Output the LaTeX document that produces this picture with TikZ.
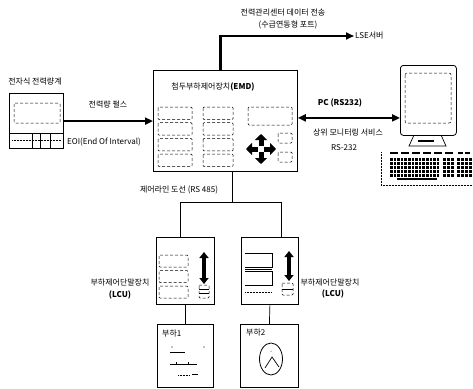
\documentclass[tikz,border=0pt]{standalone}
\usepackage{fontspec}
\setmainfont{Noto Sans CJK KR}[AutoFakeSlant=0.2]
\usetikzlibrary{arrows.meta}

\begin{document}
\begin{tikzpicture}[
  x=1pt,
  y=-1pt,
  box/.style={draw=black,line width=0.8pt,fill=white,inner sep=0pt},
  slot/.style={draw=black,densely dashed,line width=0.5pt,rounded corners=1pt},
  link/.style={line width=2.2pt,-{Triangle[length=8pt,width=7pt]}},
  twoway/.style={line width=2.2pt,{Triangle[length=8pt,width=7pt]}-{Triangle[length=8pt,width=7pt]}},
  wire/.style={line width=0.7pt},
  fat/.style={line width=3.4pt,-{Triangle[length=6pt,width=9pt]}},
  lab/.style={font=\fontsize{8}{9}\selectfont,inner sep=1pt}
]
\useasboundingbox (0,0) rectangle (473,388);

% meter
\node[lab] (meterlab) at (35,82) {전자식 전력량계};
\node[box,line width=1.2pt,minimum width=54,minimum height=55,anchor=north west] (meter) at (9,93) {};
\draw[slot] (14,103) rectangle (60,123);
\draw[wire] (9,133) -- (63,133);
\draw[densely dotted,line width=0.5pt] (12,140) -- (61,140);
\foreach \x in {32,40,50} \draw[line width=0.5pt] (\x,133) -- (\x,148);

% EMD
\node[box,minimum width=144,minimum height=101,anchor=north west] (emd) at (153,70) {};
\node[lab] (emdlab) at (213,87) {첨두부하제어장치\textbf{(EMD)}};
\foreach \r in {0,...,3} {
  \draw[slot] (158,107+15.7*\r) rectangle ++(34,12.5);
  \draw[slot] (203,107+15.7*\r) rectangle ++(30,12.5);
}
\draw[slot] (248,107) rectangle (292,125);
\foreach \a in {0,90,180,270} \draw[line width=5pt,-{Triangle[length=6pt,width=12pt]}] (261,149) ++(\a:3) -- ++(\a:12);
\draw[slot] (278,133) rectangle (292,143);
\draw[slot] (278,152) rectangle (292,162);

\draw[link] (meter.east) -- (meter.east -| emd.west);
\node[lab] (pulse) at (108,105) {전력량 펄스};
\node[lab,anchor=west] (eoi) at (66,142) {EOI(End Of Interval)};

% LSE
\node[lab,anchor=west] (lse) at (354,36) {LSE서버};
\draw[link] ([xshift=-5]emd.north) |- (lse.west);
\node[lab] (sendlab) at (283,13) {전력관리센터 데이터 전송};
\node[lab] (portlab) at (288,25) {(수급연동형 포트)};

% PC
\node[box,rounded corners=3pt,minimum width=56,minimum height=70,anchor=north west] (pc) at (400,65) {};
\draw[slot,rounded corners=2pt] (405,73) rectangle (451,123);
\draw[wire] (414,135) -- (409,146) -- (446,146) -- (441,135);
\fill (418,139.5) rectangle (434,142);
\draw[densely dotted,line width=0.5pt] (381,152) -- (381,185) -- (473,185);
\foreach \i in {0,...,5} \fill (390+11*\i,152) rectangle ++(8,2);
\foreach \i in {0,...,1} \fill (458+7*\i,152) rectangle ++(5,2);
\foreach \j in {0,...,4} {
  \foreach \i in {0,...,13} \fill (390+3.6*\i,158+4*\j) rectangle ++(2.6,2.6);
  \foreach \i in {0,...,2} \fill (443+4*\i,158+4*\j) rectangle ++(2.8,2.6);
  \foreach \i in {0,...,3} \fill (457+4*\i,158+4*\j) rectangle ++(2.8,2.6);
}
\fill (397,177.5) rectangle (437,180);

\draw[twoway] ([yshift=3]emd.east) -- ([yshift=3]emd.east -| pc.west);
\node[lab] (pclab) at (340,103) {\textbf{PC (RS232)}};
\node[lab] (monlab) at (348,133) {상위 모니터링 서비스};
\node[lab] (rslab) at (344,148) {RS-232};

% LCU
\node[box,minimum width=58,minimum height=67,anchor=north west] (lcuA) at (156,237) {};
\node[box,minimum width=57,minimum height=67,anchor=north west] (lcuB) at (241,237) {};
\draw[wire] ([xshift=7]emd.south) -- ++(0,31) coordinate (tap);
\draw[wire] ([xshift=-5]lcuA.north) |- (tap) -| ([xshift=11]lcuB.north);
\node[lab] (buslab) at (179,190) {제어라인 도선 (RS 485)};

\foreach \r in {0,...,2} \draw[slot] (159,255+15.5*\r) rectangle ++(29,12);
\draw[fat] (204,268) -- (204,252);
\draw[fat] (204,268) -- (204,284);
\draw[slot] (199,285) rectangle (209,298);
\draw[line width=0.5pt] (199,289.5) -- (209,289.5) (199,293.5) -- (209,293.5);

\draw[wire] (245,253) -- (272,253) -- (272,267) -- (245,267);
\draw[line width=0.5pt] (245,269) -- (272,269);
\draw[wire] (245,271) -- (272,271) -- (272,285) -- (245,285);
\draw[densely dotted,line width=0.5pt] (245,292) -- (272,292);
\draw[fat] (289,266) -- (289,251);
\draw[fat] (289,266) -- (289,281);
\draw[slot] (282,283) rectangle (293,295);
\draw[line width=0.5pt] (282,289) -- (293,289);

\node[lab] (lcuAlab) at (120,283) {부하제어단말장치};
\node[lab] (lcuAabbr) at (120,295) {\textbf{\textit{(LCU)}}};
\node[lab] (lcuBlab) at (330,283) {부하제어단말장치};
\node[lab] (lcuBabbr) at (333,294) {\textbf{\textit{(LCU)}}};

% loads
\node[box,minimum width=56,minimum height=63,anchor=north west] (loadA) at (157,324) {};
\node[box,minimum width=58,minimum height=63,anchor=north west] (loadB) at (240,324) {};
\draw[wire] (lcuA.south) -- (loadA.north);
\draw[wire] (lcuB.south) -- (loadB.north);
\node[lab,anchor=west] (loadAlab) at (161,333) {부하1};
\node[lab,anchor=west] (loadBlab) at (245,332) {부하2};

\fill (172,347) circle[radius=0.7];
\fill (204,347) circle[radius=0.7];
\draw[line width=0.5pt] (170,352) -- (185,352);
\draw[line width=0.6pt] (170,364) -- (197,364);
\draw[line width=0.4pt] (176,362) -- (176,364) (188,362) -- (188,364);
\draw[densely dotted,line width=0.5pt] (178,375) -- (190,375);
\draw[line width=0.5pt] (192,374) -- (198,374);

\draw[line width=0.8pt] (271,359) ellipse[x radius=11.5,y radius=16];
\draw[line width=0.7pt] (265,368) -- (272,357) -- (279,367);
\fill (271,351) circle[radius=0.5];
\end{tikzpicture}
\end{document}
